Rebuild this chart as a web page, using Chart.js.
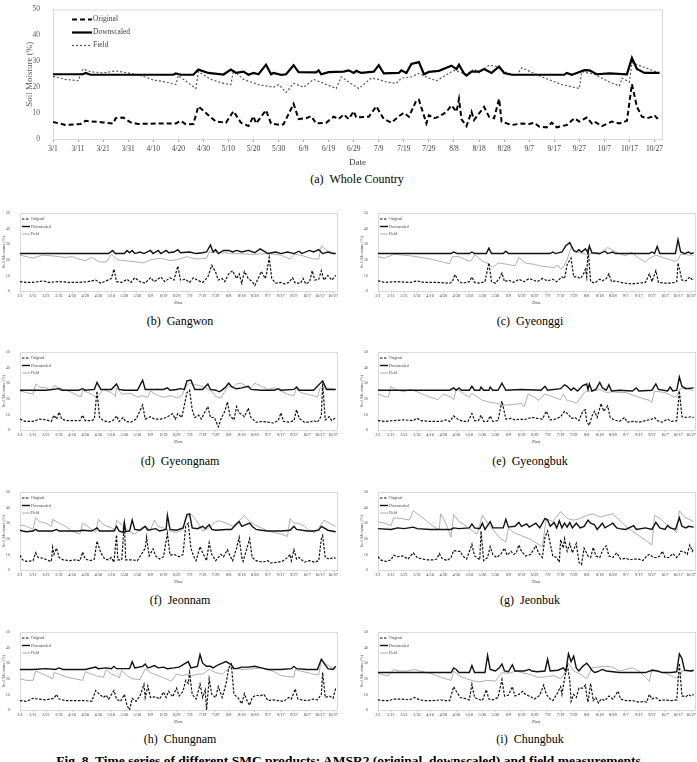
<!DOCTYPE html>
<html>
<head>
<meta charset="utf-8">
<script src="https://cdn.jsdelivr.net/npm/chart.js@4.4.0/dist/chart.umd.min.js"></script>
<style>
  body { margin:0; background:#fff; width:697px; height:762px; overflow:hidden; position:relative; font-family:"Liberation Serif", serif; }
  .box { position:absolute; }
  .cap { position:absolute; font-size:12px; color:#000; transform:translateX(-50%); white-space:nowrap; }
  .fig { position:absolute; left:50%; top:753px; transform:translateX(-50%); font-size:13.5px; font-weight:bold; white-space:nowrap; }
</style>
</head>
<body>
<div class="fig">Fig. 8. Time series of different SMC products: AMSR2 (original, downscaled) and field measurements</div>
<script>
// x axis: days since 3/1, labels every 10 days
const tickDays = [0,10,20,30,40,50,60,70,80,90,100,110,120,130,140,150,160,170,180,190,200,210,220,230,240];
const tickLabels = ['3/1','3/11','3/21','3/31','4/10','4/20','4/30','5/10','5/20','5/30','6/9','6/19','6/29','7/9','7/19','7/29','8/8','8/18','8/28','9/7','9/17','9/27','10/7','10/17','10/27'];
const seriesNames = ['Original','Downscaled','Field'];

// (a) whole country  [day, %]
const wholeOriginal = [[0,6.6],[5,5.4],[11,5.8],[13,7],[20,6.4],[24,6],[25,8],[28,8.3],[31,6.4],[34,5.8],[42,6],[49,6],[51,7],[53,5.7],[56,5.8],[58,12.6],[62,9.2],[65,6.7],[69,6.3],[72,10.7],[75,6.3],[78,5],[80,8.8],[81,6],[85,11.1],[87,6],[91,5.4],[92,5.7],[96,13.6],[98,7.7],[101,8],[103,8.8],[105,6],[109,6.3],[112,8.6],[114,7.7],[116,9.5],[118,7.7],[120,10.7],[121,8.3],[126,8.6],[129,12.6],[132,7.7],[135,6.3],[138,8.8],[140,10.1],[142,8.6],[145,14.9],[146,15.2],[149,6],[150,9.2],[152,8],[154,8.6],[157,10.5],[159,13],[161,10.5],[162,15.5],[163,7.6],[165,5],[167,10.5],[168,7.3],[172,12.4],[174,8.6],[176,8],[178,15.5],[179,6.7],[183,5.4],[187,6],[190,5.8],[192,6.3],[194,4.8],[197,4.5],[199,6.3],[201,4.5],[205,5.4],[208,8],[210,6.7],[213,8.3],[215,6],[216,6.7],[219,5],[223,6.7],[226,6],[229,7],[231,21.2],[233,12.4],[235,8.6],[237,8],[239,8.6],[240,9.2],[241,8],[242,8.6]];
const wholeDownscaled = [[0,25],[12,25],[13,25.5],[15,24.8],[48,24.8],[49,25.3],[51,24.8],[56,24.8],[58,26.8],[62,25.5],[68,24.9],[71,26.8],[73,25.5],[76,26],[78,24.8],[80,25.5],[82,25],[85,28.7],[87,25],[88,25.5],[91,24.8],[93,25],[96,28.5],[98,25.8],[105,25.7],[106,26.5],[107,25],[110,25.8],[116,26],[118,26.5],[120,25.5],[121,26.3],[123,25.5],[128,26],[130,28.5],[132,25.3],[138,25.5],[139,26.5],[141,25.5],[143,29],[146,29.7],[148,25],[150,25.9],[154,26.3],[157,27.5],[159,28.3],[161,27],[162,28.7],[164,25.3],[165,24.5],[167,26],[170,26],[172,27],[175,25.5],[178,28],[180,25.5],[183,24.8],[204,24.8],[205,25.5],[207,24.8],[209,25.5],[212,26.6],[214,26.5],[217,25],[222,25.3],[229,25],[231,31.3],[233,27],[236,25.5],[242,25.5]];
const wholeField = [[0,24.2],[5,23],[10,22.5],[12,27],[15,26],[20,25.5],[25,26.3],[30,25.5],[35,24.5],[40,22.8],[45,22],[49,21],[50,24.5],[57,19.5],[58,26],[63,23],[68,21.5],[71,21],[72,26.5],[76,23],[82,21],[88,20],[90,21],[93,18],[96,21.5],[100,20],[104,23],[108,21.5],[113,19.5],[115,24],[118,22],[122,19.5],[127,23.5],[130,23],[133,22],[137,21.5],[139,23.5],[143,24],[146,25.3],[150,23.5],[153,22.5],[160,26.5],[165,25],[168,27],[170,25.5],[174,28.5],[177,28],[180,26],[185,24.5],[187,27.5],[195,24],[203,21],[210,19.5],[211,26],[216,25],[222,22],[226,20.5],[227,23.5],[230,22],[231,29.5],[235,28],[242,25.5]];

// (b) Gangwon
const gangwonOriginal = [[0,6],[5,5.5],[10,5.5],[18,6.5],[22,5.5],[30,6],[38,5.5],[45,5.5],[52,6],[58,7],[62,5],[66,6.5],[70,8],[72,14],[74,6],[78,5.5],[82,7.5],[85,5.5],[88,8.5],[92,6],[96,5],[100,8.5],[103,6],[108,9],[111,6],[115,8.5],[118,7],[121,16],[123,7],[127,7.5],[130,5.5],[133,8.5],[136,7],[140,5.5],[144,9],[147,16.5],[150,12],[152,7],[155,8],[157,6],[160,11],[163,13],[166,8],[168,11],[170,5],[172,12.5],[175,8],[178,6],[180,3.5],[182,7],[185,12.5],[188,8],[189,11],[191,21.5],[193,8],[196,5],[200,5.5],[203,4.5],[206,5.5],[209,8.5],[211,5],[215,5],[217,8],[219,4.5],[222,6],[224,13],[226,7],[229,7.5],[231,13],[233,7],[236,10],[239,7],[242,10]];
const gangwonDownscaled = [[0,24],[20,24],[50,24],[68,24],[71,26],[73,24],[80,24],[82,26],[84,24.5],[86,26],[88,24],[92,25],[95,24],[100,26],[102,24],[106,26],[108,24],[112,26],[114,24.5],[118,25],[121,26.5],[123,24.5],[130,25],[135,24],[140,24.5],[143,25],[146,29.5],[148,25],[150,26.5],[152,24],[156,26],[160,26],[163,25],[166,26],[170,25],[175,26],[180,24.5],[184,27],[187,25.5],[190,24],[196,25],[200,24],[205,25],[210,24],[214,25.5],[216,24],[222,26],[225,25],[229,26.5],[232,24],[236,25],[240,24],[242,24]];
const gangwonField = [[0,23],[10,21],[17,23],[25,22.5],[35,21.5],[40,22],[45,20.5],[50,19.5],[55,21.5],[60,19],[63,18.5],[66,18.5],[70,23.5],[75,20],[85,19],[95,18],[100,20],[108,21],[115,19.5],[120,20],[128,22],[135,20.5],[143,21],[145,25],[155,24.5],[165,24],[180,23.5],[190,24],[200,23],[207,20.5],[210,23.5],[215,23],[225,20.5],[229,20.5],[231,29],[235,26],[242,24]];

// (c) Gyeonggi
const gyeonggiOriginal = [[0,6.5],[5,5.5],[15,6],[25,5.5],[30,6.5],[35,5.5],[45,5.5],[55,5],[57,6],[59,10.5],[62,6],[65,5],[70,6],[72,9],[74,5.5],[78,5],[82,6],[85,18],[87,6],[90,5],[93,8],[95,11.5],[97,6],[100,7],[104,5.5],[108,7.5],[112,6],[116,8],[119,7],[122,6],[126,8],[130,6.5],[134,7.5],[137,6],[141,9],[143,8],[145,17],[148,21],[150,9],[153,9],[155,8],[157,10],[159,14],[160,9],[161,27],[163,6],[166,5],[170,7.5],[172,6.5],[175,8],[177,11],[179,6],[182,6.5],[186,5.5],[190,5],[195,4.5],[200,5],[205,5.5],[208,11],[210,6],[213,13],[215,5.5],[220,5],[225,5],[229,6],[230,18],[233,7],[236,6.5],[239,9],[241,7],[242,7.5]];
const gyeonggiDownscaled = [[0,24],[40,24],[56,24],[58,25],[61,24],[70,24],[72,25],[74,24],[83,24],[85,27.5],[87,24],[96,24],[98,25.5],[100,24],[115,24],[125,24],[132,24],[134,25],[136,24],[141,25],[144,29],[147,31],[150,26],[152,25],[154,26.5],[156,25],[159,27],[161,24.5],[162,29],[164,24.5],[170,24],[174,25.5],[176,24],[180,25],[182,24],[195,24],[208,24],[210,25],[212,24],[214,28.5],[216,24],[228,24],[230,33],[232,25],[235,24],[238,25],[240,24],[242,24.5]];
const gyeonggiField = [[0,22],[5,21],[12,23.5],[20,23],[30,22],[40,20.5],[50,18.5],[55,17.5],[57,22],[62,22],[70,19],[72,20],[74,23.5],[80,19],[85,17.5],[88,15],[92,18],[100,17],[105,16],[108,21.5],[113,18],[120,17],[125,16],[130,15.5],[135,15],[138,16.5],[140,14],[142,15.5],[145,20],[148,28],[152,25],[157,24],[160,23.5],[165,24],[170,23.5],[176,28],[180,26],[185,24],[190,22.5],[194,25],[200,21],[205,18.5],[208,21],[213,23],[220,21],[228,19],[230,20],[232,23.5],[242,23]];

// (d) Gyeongnam
const gyeongnamOriginal = [[0,7],[4,5.5],[10,5.5],[15,7],[20,6.5],[24,5.5],[26,9.5],[28,7],[30,11.5],[32,7],[36,6],[42,6],[46,6],[48,9.5],[50,6],[55,6],[57,7],[59,25],[61,8],[64,6],[68,5],[72,6.5],[74,9],[76,5.5],[79,8],[81,5.5],[85,5],[89,7],[94,16],[96,7],[100,8.5],[103,7],[108,7],[112,8],[117,10.5],[119,7],[121,10.5],[124,8],[128,24],[130,25.5],[132,13],[134,8],[137,9.5],[139,7],[142,12],[144,15],[146,8],[149,8],[152,2],[154,7],[157,12],[159,18],[161,9],[164,6.5],[166,15],[168,11],[170,10],[172,8.5],[175,14],[177,8],[181,5],[186,5.5],[190,5],[194,4.5],[198,6],[200,11],[202,5.5],[206,5],[210,6],[212,13],[214,7.5],[218,5],[222,5],[225,6],[228,5],[231,9],[232,30],[234,6.5],[237,8.5],[239,6],[242,8]];
const gyeongnamDownscaled = [[0,25.5],[20,25.5],[30,26.5],[32,25.5],[45,25.5],[48,26.5],[50,25.5],[57,26],[59,30.5],[62,26],[70,26],[74,29.5],[76,26],[80,25.5],[90,25.5],[94,32],[96,26],[110,26],[113,27],[115,25.5],[120,26],[123,26.5],[126,26],[128,31.5],[131,32],[134,26],[140,26],[144,29.5],[146,26],[150,25.5],[153,24.5],[157,27],[160,30],[162,28],[164,27],[166,26.5],[170,27],[175,28],[177,26],[185,25.5],[195,25.5],[198,26.5],[200,25.5],[210,26],[212,27.5],[214,25.5],[225,25.5],[232,31.5],[235,26],[242,26]];
const gyeongnamField = [[0,25],[5,24],[10,23],[12,29.5],[15,27.5],[20,27],[24,25.5],[26,28.5],[30,27],[40,24],[44,22],[47,21.5],[48,25.5],[52,24],[58,21.5],[60,22],[64,26],[70,24],[73,21.5],[74,27],[78,23],[85,23.5],[90,21],[93,22],[98,21],[100,25],[106,22],[110,21],[113,21.5],[116,22],[120,20.5],[124,22],[127,28],[130,30],[134,29],[138,28.5],[142,27],[146,25],[148,24],[150,21.5],[154,20.5],[158,26],[160,28],[163,27],[166,29.5],[170,30],[174,27.5],[177,27],[180,30],[185,28],[190,26],[195,27],[200,25],[205,23],[210,22],[212,27],[215,24],[220,23],[225,22],[228,21],[230,27],[235,27],[242,26]];

// (e) Gyeongbuk
const gyeongbukOriginal = [[0,6],[5,5.5],[12,6],[20,6.5],[27,6],[30,7.5],[33,6],[40,5.5],[48,5.5],[52,6.5],[55,5.5],[58,9],[61,7],[65,5.5],[69,5.5],[72,10.5],[74,6],[77,6],[79,9.5],[81,5.5],[84,5.5],[86,9],[88,5.5],[92,6],[95,18.5],[98,7],[102,7.5],[105,6.5],[109,7],[112,6.5],[115,7.5],[119,8],[122,7.5],[126,7],[129,12],[132,6.5],[136,7],[140,8.5],[143,12],[146,10],[148,7.5],[151,8],[154,6],[157,12],[159,13],[160,5],[162,3],[164,9],[166,12],[168,8],[171,17],[173,12],[176,15.5],[178,8],[181,6.5],[185,5.5],[189,8],[191,5],[196,5.5],[200,5],[205,6],[210,7],[212,8],[214,6],[218,5],[222,7],[225,5.5],[229,6],[231,25],[233,8.5],[237,8],[240,8.5],[242,8]];
const gyeongbukDownscaled = [[0,25.5],[10,25.5],[25,25.5],[55,25.5],[58,27],[60,25.5],[62,27],[64,25.5],[70,25.5],[72,28],[74,25.5],[78,25.5],[79,27.5],[81,25.5],[85,25.5],[86,27.5],[88,25.5],[92,25.5],[95,30],[98,25.5],[110,26],[125,25.5],[128,28],[130,25.5],[140,26.5],[143,29],[145,28],[148,25.5],[150,27],[153,25],[157,28.5],[160,29.5],[161,26],[162,29.5],[164,25],[167,26],[170,30.5],[172,27],[175,25.5],[177,29],[179,25],[185,25.5],[195,25],[198,27],[200,25],[210,25.5],[213,29.5],[215,26],[222,25],[224,27.5],[226,25],[229,25.5],[231,34],[233,28],[236,26.5],[242,27]];
const gyeongbukField = [[0,23],[5,21.5],[8,21],[10,28],[13,26],[20,24.5],[25,26],[30,24.5],[40,21],[46,19.5],[50,23],[56,21],[58,19.5],[60,26.5],[66,23],[70,21],[72,23.5],[80,19],[85,18],[92,17],[95,16],[100,16],[105,16.5],[110,17],[112,15],[115,23],[120,21],[123,19],[128,23],[135,21],[140,19.5],[142,23],[145,19],[150,18],[152,17],[158,24],[160,25],[165,25],[170,26],[175,24],[180,24.5],[185,24],[190,24],[200,21],[208,19],[210,18],[212,25],[220,24],[225,22],[229,21],[231,26],[236,27],[242,25]];

// (f) Jeonnam
const jeonnamOriginal = [[0,9.5],[2,6.5],[5,5.5],[10,6],[12,11],[14,8],[18,7.5],[22,6],[24,5.5],[25,14.5],[26,10],[28,14],[30,8],[33,6.5],[38,6],[43,6.5],[46,6],[48,11.5],[50,7],[54,6],[57,7],[59,18.5],[62,11],[65,7],[68,6.5],[70,8],[72,5],[74,22.5],[75,6.5],[78,6.5],[80,31],[81,6.5],[86,6.5],[90,6],[93,10],[96,14],[97,21],[99,9],[102,13.5],[104,9],[107,7],[110,8.5],[113,23.5],[115,9.5],[118,10],[122,8.5],[125,10],[127,28],[129,30],[131,14],[133,9],[135,6],[138,15],[140,11],[143,6],[145,17.5],[147,10],[150,6],[154,10],[156,8.5],[159,13],[161,9],[163,6],[166,14],[168,21],[170,8],[171,5.5],[174,14],[176,20],[178,8],[181,6],[186,5],[190,6],[192,4.5],[197,5],[201,5.5],[205,8],[207,10],[208,6],[210,13],[212,7],[214,8],[218,5],[222,6],[226,5],[229,6],[231,20],[232,22],[234,8],[237,7],[240,8],[242,7.5]];
const jeonnamDownscaled = [[0,25.5],[2,25],[5,24.5],[10,25],[12,26],[14,25],[25,25],[28,26],[30,25],[45,25],[48,25.5],[55,25],[59,27],[61,25],[72,25],[74,28],[76,25],[79,24],[80,30.5],[81,24.5],[84,25],[86,32],[88,26],[92,25.5],[96,28],[98,25.5],[104,26.5],[107,25],[112,26],[113,35],[115,26],[120,25.5],[125,27],[128,35.5],[130,36],[132,27],[136,26.5],[140,28],[142,26.5],[145,29],[147,26],[150,25.5],[158,26],[162,26],[166,29.5],[168,31],[170,28],[176,30],[178,28],[181,26],[185,25.5],[190,25],[200,25],[207,25.5],[210,28],[212,26],[220,25],[225,25],[229,25.5],[231,28],[233,27],[236,25.5],[242,24.5]];
const jeonnamField = [[0,29],[5,28],[10,26],[12,33.5],[15,31],[20,30],[24,28],[25,32.5],[30,30],[35,28],[40,25],[46,23],[48,30],[52,28],[58,24],[60,32.5],[64,29],[70,27],[73,25],[74,32],[78,29],[82,26],[85,24],[88,23],[93,27],[96,28],[100,25.5],[103,32],[106,28],[110,27],[115,25],[120,24],[125,26],[127,33],[131,36],[135,32],[140,25],[145,27],[150,31],[153,31.5],[158,30],[163,28],[167,31],[170,33],[172,35],[176,31],[180,29],[185,27],[190,25],[195,24],[200,23],[205,21.5],[207,33],[210,30],[213,30],[218,28],[222,25],[226,24],[229,27],[233,32],[237,30],[242,28]];

// (g) Jeonbuk
const jeonbukOriginal = [[0,8.5],[2,6.5],[6,5.5],[10,6.5],[12,9.5],[15,8.5],[19,9],[23,7],[27,11],[30,8],[34,7],[38,6.5],[42,6.5],[45,7],[47,10.5],[49,7.5],[53,6],[56,8],[58,12.5],[61,12],[63,12],[65,9],[68,7],[72,16.5],[74,9],[76,8],[78,6.5],[79,25],[81,6],[84,8],[86,15],[88,10],[91,8],[94,10],[97,14],[99,9.5],[102,12],[104,10],[106,11],[108,16],[110,12],[113,9],[117,10],[121,15.5],[123,11],[126,8],[128,21],[130,25],[132,17],[134,9],[137,8],[139,5],[140,19.5],[142,14],[143,20],[145,12],[147,17],[149,11],[152,17],[154,5],[156,3.5],[158,14],[161,9],[163,8],[165,14.5],[167,9],[170,8],[173,14],[175,15.5],[177,9],[180,8],[183,11],[186,7],[190,7.5],[193,6.5],[196,7],[200,7],[203,6],[206,9],[208,10],[211,8],[214,8],[216,9],[218,12],[220,8],[223,8],[226,10.5],[229,8],[231,10],[232,12],[235,11.5],[237,10],[239,16],[241,12],[242,14]];
const jeonbukDownscaled = [[0,26.5],[10,26],[15,27],[20,26.5],[27,27.5],[30,26.5],[40,26],[50,26],[56,26],[58,27],[62,26.5],[70,27],[72,29.5],[74,27],[78,26.5],[80,30],[82,26],[86,31],[88,27],[96,27],[98,32.5],[100,27.5],[105,28],[108,30.5],[110,28],[114,29.5],[116,27.5],[121,30],[124,27],[128,33],[130,32],[132,28],[135,30.5],[137,27],[139,31.5],[141,27],[143,30],[145,27.5],[147,30.5],[149,27],[152,30],[155,27],[158,28],[161,32],[163,30],[166,29],[168,26],[172,30],[174,27],[178,29],[180,30],[183,27],[185,26.5],[190,26],[196,28.5],[198,26],[205,27],[210,26],[213,30.5],[216,27],[220,26],[222,28.5],[224,27],[228,26],[231,33.5],[233,28],[236,27],[238,28],[242,27.5]];
const jeonbukField = [[0,31],[5,30],[10,28.5],[12,33.5],[18,33],[24,32],[27,38],[32,35],[38,31],[44,27],[47,26],[48,36],[52,30],[56,21],[58,35.5],[62,31],[68,28],[74,24],[76,23],[80,35],[84,30],[88,26],[94,20],[98,18],[100,27],[104,24],[110,22],[116,20],[122,17],[126,15],[129,33],[134,31],[140,37.5],[145,33],[150,32],[155,33],[160,35],[165,36],[170,34],[175,35],[180,36],[185,32],[190,28],[195,25],[200,22],[205,19],[210,16],[212,35],[216,33],[220,30],[225,27],[229,24],[231,38],[235,34],[242,31]];

// (h) Chungnam
const chungnamOriginal = [[0,6],[5,5.5],[10,7.5],[14,7],[20,6.5],[26,7.5],[28,10],[30,7],[35,6],[42,6],[50,6],[55,5.5],[58,12.5],[61,10],[64,8],[66,9.5],[68,7],[72,12.5],[74,7],[77,5.5],[80,10],[82,3],[84,0],[86,7.5],[89,5.5],[92,9],[95,16.5],[96,8],[98,15.5],[100,8],[104,8.5],[107,7],[110,11.5],[112,8],[114,12],[117,8.5],[120,14],[122,9],[125,12],[127,19],[129,17],[130,24],[132,10],[135,7],[138,16.5],[140,8],[142,13],[143,0],[145,20],[147,10],[150,8],[152,15],[155,8],[158,17],[160,27],[162,29.5],[164,10],[167,8],[170,4],[172,10.5],[174,6],[176,3],[178,8],[181,9.5],[184,9],[187,10],[190,6],[194,6.5],[198,6],[202,5.5],[206,8],[208,7],[211,13.5],[213,7],[216,6.5],[220,6],[225,7],[228,6.5],[231,10],[232,24],[234,8],[237,9],[240,7.5],[242,14]];
const chungnamDownscaled = [[0,26],[10,26],[20,26.5],[27,26],[30,27],[33,26],[50,26],[58,27.5],[60,26.5],[66,27],[70,26.5],[72,28],[74,26.5],[84,26.5],[86,31],[88,27],[94,28],[96,29.5],[98,27],[100,27.5],[103,28.5],[106,27],[110,27.5],[113,26.5],[118,27],[122,27.5],[127,30],[129,31],[131,27],[136,28],[138,35.5],[140,30],[143,28],[146,28],[148,27],[152,29],[155,30],[158,31],[160,30],[162,29],[164,26.5],[166,26.5],[168,27],[170,27.5],[175,27.5],[180,28],[185,27],[190,26],[200,26],[208,26.5],[210,28],[212,26.5],[220,26],[228,26],[231,32.5],[233,30],[236,26.5],[240,26],[242,28]];
const chungnamField = [[0,20],[5,19],[10,19],[12,25],[15,24],[20,22],[25,20],[26,24],[30,23],[36,21],[42,20],[48,19],[50,24.5],[55,23],[60,21.5],[64,21],[66,26],[70,23],[74,22],[76,20.5],[78,25.5],[82,22],[86,20],[92,19.5],[96,26.5],[100,24],[106,22],[112,20],[116,18.5],[120,23],[125,22],[128,23],[132,22],[136,23],[140,23],[145,26],[150,24],[155,23],[158,25],[160,27],[164,27],[170,26],[180,26.5],[185,27],[190,26],[196,24],[200,22],[205,21.5],[210,21],[211,26],[215,25],[220,24],[225,23],[229,22.5],[231,32.5],[235,29],[240,27],[242,26]];

// (i) Chungbuk
const chungbukOriginal = [[0,6.5],[4,6],[8,6],[12,7],[18,7],[24,6.5],[28,8],[32,6.5],[36,6],[42,6],[48,6.5],[52,6],[55,6],[58,15],[60,12],[63,8],[66,7.5],[70,6.5],[72,16.5],[74,8],[77,7],[80,6],[83,13],[85,7],[88,6.5],[92,8],[95,19.5],[97,9],[100,9.5],[103,15],[105,9],[108,10],[111,12],[113,10],[117,8.5],[120,7],[124,9.5],[127,16],[129,10],[132,7],[134,6],[137,10],[140,15],[141,10],[143,20],[145,29.5],[147,19],[148,5.5],[150,10],[152,8],[154,14],[157,14],[159,16],[160,9],[161,5],[163,17],[165,6],[167,8],[169,4.5],[171,7],[174,6],[177,9],[180,7],[184,12],[186,7],[190,6],[195,6],[200,5],[204,5.5],[206,5],[208,10],[210,7],[213,8],[216,6],[220,6.5],[225,6],[229,6.5],[231,30],[233,9],[236,8.5],[238,10],[240,9],[242,10]];
const chungbukDownscaled = [[0,24],[20,24],[40,24],[56,24],[58,27],[60,26],[62,24],[70,24],[72,28.5],[74,24],[82,24],[84,35],[86,26],[90,25],[93,27],[95,29.5],[97,25],[100,24.5],[103,29],[105,25],[112,25],[116,26],[118,25],[122,24.5],[128,25],[130,32.5],[132,25],[138,25.5],[142,27],[144,25],[146,36],[148,31],[150,34.5],[152,27],[154,25],[157,28],[160,30],[162,28],[164,25.5],[166,24],[168,24.5],[172,26],[175,25],[180,24.5],[185,24],[195,24],[205,24],[210,25.5],[214,25],[218,24],[225,24],[229,24.5],[231,36],[233,33],[235,25.5],[240,25],[242,25.5]];
const chungbukField = [[0,23.5],[4,22.5],[8,22],[12,26],[16,25],[22,25],[28,26],[32,25],[40,23.5],[48,21],[52,20],[56,19],[58,25],[62,22],[68,20],[74,18.5],[78,18],[84,19],[90,18.5],[95,24],[100,23.5],[106,25],[110,24],[118,22.5],[122,21],[126,21],[130,21.5],[135,22],[140,20],[142,22],[146,30],[150,25],[155,23],[160,20],[164,27],[168,27.5],[175,28],[180,27.5],[185,25],[190,26],[195,27],[200,25],[205,21],[208,18.5],[210,26],[215,25],[222,23],[228,20.5],[231,21],[233,25],[236,25],[242,25]];

const panels = [
  { caption:'(a)\u00a0\u00a0Whole Country', data:[wholeOriginal, wholeDownscaled, wholeField] },
  { caption:'(b)\u00a0\u00a0Gangwon', data:[gangwonOriginal, gangwonDownscaled, gangwonField] },
  { caption:'(c)\u00a0\u00a0Gyeonggi', data:[gyeonggiOriginal, gyeonggiDownscaled, gyeonggiField] },
  { caption:'(d)\u00a0\u00a0Gyeongnam', data:[gyeongnamOriginal, gyeongnamDownscaled, gyeongnamField] },
  { caption:'(e)\u00a0\u00a0Gyeongbuk', data:[gyeongbukOriginal, gyeongbukDownscaled, gyeongbukField] },
  { caption:'(f)\u00a0\u00a0Jeonnam', data:[jeonnamOriginal, jeonnamDownscaled, jeonnamField] },
  { caption:'(g)\u00a0\u00a0Jeonbuk', data:[jeonbukOriginal, jeonbukDownscaled, jeonbukField] },
  { caption:'(h)\u00a0\u00a0Chungnam', data:[chungnamOriginal, chungnamDownscaled, chungnamField] },
  { caption:'(i)\u00a0\u00a0Chungbuk', data:[chungbukOriginal, chungbukDownscaled, chungbukField] },
];

Chart.defaults.font.family = '"Liberation Serif", serif';
Chart.defaults.animation = false;

// legend drawn inside the plot, top-left, like the excel figure
const insideLegend = {
  id: 'insideLegend',
  afterDatasetsDraw(chart, args, o) {
    const {ctx, chartArea: a} = chart;
    ctx.save();
    chart.data.datasets.forEach((ds, i) => {
      const y = a.top + o.y0 + i * o.gap;
      ctx.beginPath();
      ctx.setLineDash(ds.borderDash || []);
      ctx.lineWidth = ds.borderWidth;
      ctx.strokeStyle = ds.borderColor;
      ctx.moveTo(a.left + o.x0, y);
      ctx.lineTo(a.left + o.x0 + o.len, y);
      ctx.stroke();
      ctx.setLineDash([]);
      ctx.fillStyle = '#404040';
      ctx.font = o.size + 'px "Liberation Serif"';
      ctx.textBaseline = 'middle';
      ctx.fillText(ds.label, a.left + o.x0 + o.len + 1, y);
    });
    ctx.restore();
  }
};
const plotFrame = {
  id: 'plotFrame',
  beforeDatasetsDraw(chart) {
    const {ctx, chartArea: a} = chart;
    ctx.save();
    ctx.strokeStyle = '#d9d9d9';
    ctx.lineWidth = 1;
    ctx.strokeRect(a.left + 0.5, a.top + 0.5, a.right - a.left, a.bottom - a.top);
    ctx.restore();
  }
};

function makeChart(p, box, big) {
  const div = document.createElement('div');
  div.className = 'box';
  Object.assign(div.style, { left: box.left + 'px', top: box.top + 'px', width: box.w + 'px', height: box.h + 'px' });
  const cv = document.createElement('canvas');
  div.appendChild(cv);
  document.body.appendChild(div);

  const cap = document.createElement('div');
  cap.className = 'cap';
  cap.textContent = p.caption;
  cap.style.left = box.capX + 'px';
  cap.style.top = box.capY + 'px';
  document.body.appendChild(cap);

  const styles = big ? [
    { borderColor:'#000', borderWidth:2, borderDash:[5,3] },
    { borderColor:'#000', borderWidth:2.2, borderDash:[] },
    { borderColor:'#555', borderWidth:1.2, borderDash:[2,2] },
  ] : [
    { borderColor:'#111', borderWidth:1.2, borderDash:[2.5,1.5] },
    { borderColor:'#111', borderWidth:1.4, borderDash:[] },
    { borderColor:'#9a9a9a', borderWidth:0.8, borderDash:[] },
  ];
  const tickSize = big ? 7.5 : 4.3;
  const titleSize = big ? 9 : 4.5;

  new Chart(cv, {
    type: 'line',
    data: {
      datasets: p.data.map((d, i) => ({
        label: seriesNames[i], data: d, ...styles[i],
        pointRadius: 0, tension: 0, fill: false,
      })),
    },
    options: {
      responsive: true,
      maintainAspectRatio: false,
      layout: { padding: box.pad },
      plugins: {
        legend: { display: false },
        tooltip: { enabled: false },
        insideLegend: big ? { x0:19, len:20, y0:10, gap:13, size:7.5 } : { x0:2, len:8, y0:6, gap:7.5, size:4 },
      },
      scales: {
        x: {
          type: 'linear', min: 0, max: 243,
          afterBuildTicks: s => { s.ticks = tickDays.map(v => ({ value: v })); },
          afterFit: s => { s.height = box.xh; },
          ticks: { autoSkip:false, maxRotation:0, padding: big ? 3 : 1, color:'#404040', font:{ size: tickSize },
                   callback: v => tickLabels[tickDays.indexOf(v)] },
          grid: { display:true, drawOnChartArea:false, tickLength: big ? 3 : 1.5, color:'#a6a6a6' },
          border: { display:true, color:'#a6a6a6' },
          title: { display:true, text:'Date', color:'#404040', font:{ size: titleSize }, padding: 0 },
        },
        y: {
          min: 0, max: 50,
          afterFit: s => { s.width = box.yw; },
          ticks: { stepSize:10, padding: big ? 5 : 2, color:'#595959', font:{ size: tickSize } },
          grid: { display:false },
          border: { display:true, color:'#bfbfbf' },
          title: { display:true, text:'Soil Moisture (%)', color:'#595959', font:{ size: titleSize }, padding: 0 },
        },
      },
    },
    plugins: [insideLegend, plotFrame],
  });
}

// layout of the figure
const big = { left:0, top:0, w:697, h:168, pad:{ left:24, right:35, top:7, bottom:0 }, yw:29, xh:29, capX:357, capY:172 };
makeChart(panels[0], big, true);

const rowTops = [213, 352, 492, 632];
const rowCaps = [314, 454, 593, 732];
for (let r = 0; r < 4; r++) {
  const top = rowTops[r] - 13;
  const plotH = 78;
  const left = { left:0, top, w:345, h:plotH + 13 + 15, pad:{ left:1, right:8, top:13, bottom:0 }, yw:19, xh:15, capX:180, capY:rowCaps[r] };
  const right = { left:350, top, w:347, h:plotH + 13 + 15, pad:{ left:9, right:2, top:13, bottom:0 }, yw:19, xh:15, capX:530, capY:rowCaps[r] };
  makeChart(panels[1 + r * 2], left, false);
  makeChart(panels[2 + r * 2], right, false);
}
</script>
</body>
</html>
